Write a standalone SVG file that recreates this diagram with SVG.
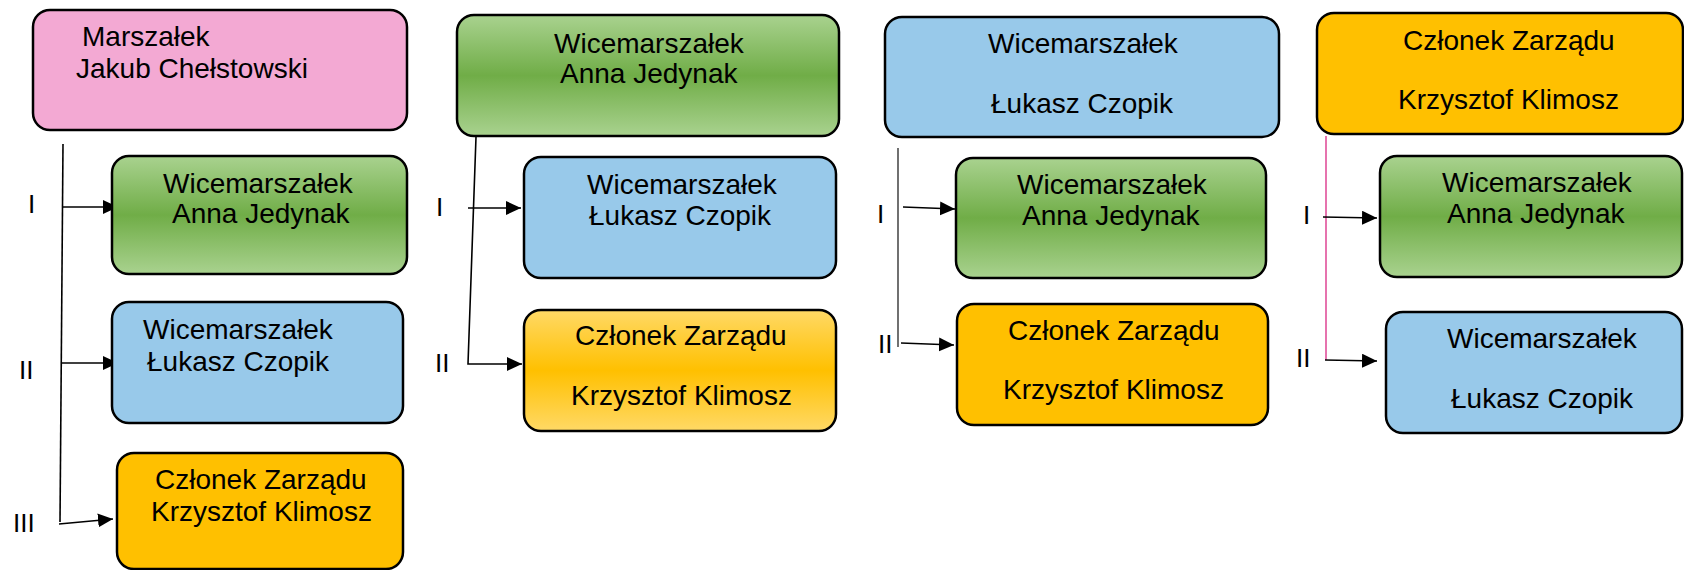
<svg xmlns="http://www.w3.org/2000/svg" width="1684" height="570" viewBox="0 0 1684 570">
<defs>
<style>
.box{stroke:#000;stroke-width:2.5}
.pink{fill:#F3A9D3}
.blue{fill:#98C9EA}
.orange{fill:#FFC000}
.green{fill:url(#gGreen)}
.orangeG{fill:url(#gOrange)}
.t{font-family:"Liberation Sans",Arial,sans-serif;font-size:28px;fill:#000}
.lbl{font-family:"Liberation Sans",Arial,sans-serif;font-size:26px;fill:#000}
.c{fill:none;stroke:#000;stroke-width:1.6}
</style>
<linearGradient id="gGreen" x1="0" y1="0" x2="0" y2="1">
<stop offset="0" stop-color="#A9D28F"/>
<stop offset="0.5" stop-color="#70AD47"/>
<stop offset="1" stop-color="#A9D28F"/>
</linearGradient>
<linearGradient id="gOrange" x1="0" y1="0" x2="0" y2="1">
<stop offset="0" stop-color="#FFD966"/>
<stop offset="0.5" stop-color="#FFC000"/>
<stop offset="1" stop-color="#FFD966"/>
</linearGradient>
<marker id="arr" markerUnits="userSpaceOnUse" markerWidth="16" markerHeight="16" refX="15" refY="7" orient="auto">
<path d="M0,0 L15,7 L0,14 z" fill="#000"/>
</marker>
</defs>

<g id="connectors">
<path class="c" d="M63,144 L60,522"/>
<path class="c" d="M63,207 L118,207" marker-end="url(#arr)"/>
<path class="c" d="M62,363 L118,363" marker-end="url(#arr)"/>
<path class="c" d="M59,524 L113,519" marker-end="url(#arr)"/>

<path class="c" d="M476,137 L468,364 L522,364" marker-end="url(#arr)"/>
<path class="c" d="M468,208 L521,208" marker-end="url(#arr)"/>

<path class="c" d="M898,148 L898,347" style="stroke:#4d4d4d"/>
<path class="c" d="M903,207 L955,209" marker-end="url(#arr)"/>
<path class="c" d="M901,343 L954,345" marker-end="url(#arr)"/>

<path class="c" d="M1326,136 L1326,360" style="stroke:#E0509A"/>
<path class="c" d="M1323,217 L1377,218" marker-end="url(#arr)"/>
<path class="c" d="M1325,360 L1377,361" marker-end="url(#arr)"/>
</g>

<g id="labels">
<text class="lbl" x="28" y="213">I</text>
<text class="lbl" x="19" y="379">II</text>
<text class="lbl" x="13" y="532">III</text>
<text class="lbl" x="436" y="216">I</text>
<text class="lbl" x="435" y="372">II</text>
<text class="lbl" x="877" y="223">I</text>
<text class="lbl" x="878" y="353">II</text>
<text class="lbl" x="1303" y="224">I</text>
<text class="lbl" x="1296" y="367">II</text>
</g>

<g id="n-marszalek">
<rect class="box pink" x="33" y="10" width="374" height="120" rx="17"/>
<text class="t" x="82" y="46">Marszałek</text>
<text class="t" x="76" y="78">Jakub Chełstowski</text>
</g>
<g id="n-c1-jedynak">
<rect class="box green" x="112" y="156" width="295" height="118" rx="17"/>
<text class="t" x="163" y="193">Wicemarszałek</text>
<text class="t" x="172" y="223">Anna Jedynak</text>
</g>
<g id="n-c1-czopik">
<rect class="box blue" x="112" y="302" width="291" height="121" rx="17"/>
<text class="t" x="143" y="339">Wicemarszałek</text>
<text class="t" x="147" y="371">Łukasz Czopik</text>
</g>
<g id="n-c1-klimosz">
<rect class="box orange" x="117" y="453" width="286" height="116" rx="17"/>
<text class="t" x="155" y="489">Członek Zarządu</text>
<text class="t" x="151" y="521">Krzysztof Klimosz</text>
</g>

<g id="n-c2-jedynak">
<rect class="box green" x="457" y="15" width="382" height="121" rx="17"/>
<text class="t" x="554" y="53">Wicemarszałek</text>
<text class="t" x="560" y="83">Anna Jedynak</text>
</g>
<g id="n-c2-czopik">
<rect class="box blue" x="524" y="157" width="312" height="121" rx="17"/>
<text class="t" x="587" y="194">Wicemarszałek</text>
<text class="t" x="589" y="225">Łukasz Czopik</text>
</g>
<g id="n-c2-klimosz">
<rect class="box orangeG" x="524" y="310" width="312" height="121" rx="17"/>
<text class="t" x="575" y="345">Członek Zarządu</text>
<text class="t" x="571" y="405">Krzysztof Klimosz</text>
</g>

<g id="n-c3-czopik">
<rect class="box blue" x="885" y="17" width="394" height="120" rx="17"/>
<text class="t" x="988" y="53">Wicemarszałek</text>
<text class="t" x="991" y="113">Łukasz Czopik</text>
</g>
<g id="n-c3-jedynak">
<rect class="box green" x="956" y="158" width="310" height="120" rx="17"/>
<text class="t" x="1017" y="194">Wicemarszałek</text>
<text class="t" x="1022" y="225">Anna Jedynak</text>
</g>
<g id="n-c3-klimosz">
<rect class="box orange" x="957" y="304" width="311" height="121" rx="17"/>
<text class="t" x="1008" y="340">Członek Zarządu</text>
<text class="t" x="1003" y="399">Krzysztof Klimosz</text>
</g>

<g id="n-c4-klimosz">
<rect class="box orange" x="1317" y="13" width="366" height="121" rx="17"/>
<text class="t" x="1403" y="50">Członek Zarządu</text>
<text class="t" x="1398" y="109">Krzysztof Klimosz</text>
</g>
<g id="n-c4-jedynak">
<rect class="box green" x="1380" y="156" width="302" height="121" rx="17"/>
<text class="t" x="1442" y="192">Wicemarszałek</text>
<text class="t" x="1447" y="223">Anna Jedynak</text>
</g>
<g id="n-c4-czopik">
<rect class="box blue" x="1386" y="312" width="296" height="121" rx="17"/>
<text class="t" x="1447" y="348">Wicemarszałek</text>
<text class="t" x="1451" y="408">Łukasz Czopik</text>
</g>
</svg>
